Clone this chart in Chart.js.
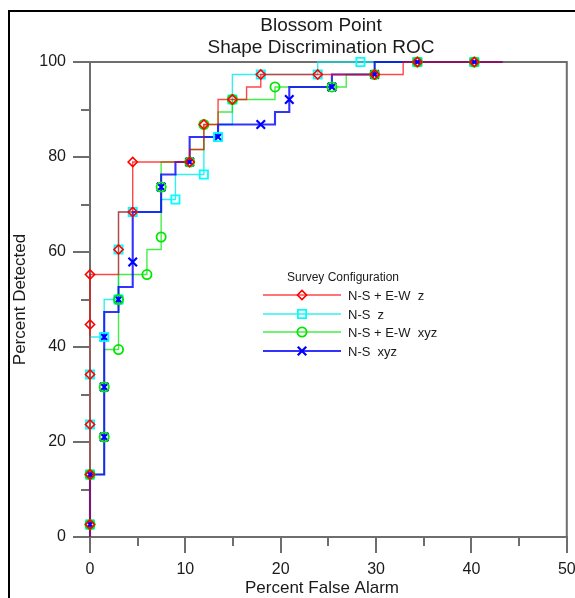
<!DOCTYPE html>
<html>
<head>
<meta charset="utf-8">
<title>Blossom Point - Shape Discrimination ROC</title>
<script src="https://cdn.jsdelivr.net/npm/chart.js@4.4.1/dist/chart.umd.min.js"></script>
<style>
html, body { margin: 0; padding: 0; background: #fff; }
#wrap { position: relative; width: 575px; height: 598px; }
</style>
</head>
<body>
<div id="wrap"><canvas id="roc" width="575" height="598"></canvas></div>
<script>
// ROC curves, x = percent false alarm, y = percent detected.
// *Path arrays are the staircase corners, *Mark arrays the threshold markers.

// N-S + E-W  z
const nsEwZPathX = [0, 0, 2.99, 2.99, 4.48, 4.48, 10.45, 10.45, 11.94, 11.94, 13.43, 13.43, 16.42, 16.42, 17.91, 17.91, 32.84, 32.84, 43.28];
const nsEwZPathY = [0, 55.26, 55.26, 68.42, 68.42, 78.95, 78.95, 81.58, 81.58, 86.84, 86.84, 92.11, 92.11, 94.74, 94.74, 97.37, 97.37, 100, 100];
const nsEwZMarkX = [0, 0, 0, 0, 0, 0, 2.99, 4.48, 4.48, 10.45, 11.94, 14.93, 17.91, 23.88, 29.85, 34.33, 40.30];
const nsEwZMarkY = [2.63, 13.16, 23.68, 34.21, 44.74, 55.26, 60.53, 68.42, 78.95, 78.95, 86.84, 92.11, 97.37, 97.37, 97.37, 100, 100];

// N-S  z
const nsZPathX = [0, 0, 1.49, 1.49, 2.99, 2.99, 7.46, 7.46, 8.96, 8.96, 11.94, 11.94, 13.43, 13.43, 14.93, 14.93, 23.88, 23.88, 43.28];
const nsZPathY = [0, 42.11, 42.11, 50, 50, 68.42, 68.42, 71.05, 71.05, 76.32, 76.32, 84.21, 84.21, 86.84, 86.84, 97.37, 97.37, 100, 100];
const nsZMarkX = [0, 0, 0, 0, 1.49, 2.99, 2.99, 4.48, 8.96, 11.94, 13.43, 14.93, 17.91, 23.88, 28.36, 34.33, 40.30];
const nsZMarkY = [2.63, 13.16, 23.68, 34.21, 42.11, 50, 60.53, 68.42, 71.05, 76.32, 84.21, 92.11, 97.37, 97.37, 100, 100, 100];

// N-S + E-W  xyz
const nsEwXyzPathX = [0, 0, 1.49, 1.49, 2.99, 2.99, 5.97, 5.97, 7.46, 7.46, 10.45, 10.45, 11.94, 11.94, 13.43, 13.43, 14.93, 14.93, 19.40, 19.40, 26.87, 26.87, 29.85, 29.85, 43.28];
const nsEwXyzPathY = [0, 13.16, 13.16, 39.47, 39.47, 55.26, 55.26, 60.53, 60.53, 78.95, 78.95, 81.58, 81.58, 86.84, 86.84, 89.47, 89.47, 92.11, 92.11, 94.74, 94.74, 97.37, 97.37, 100, 100];
const nsEwXyzMarkX = [0, 0, 1.49, 1.49, 2.99, 2.99, 5.97, 7.46, 7.46, 10.45, 11.94, 14.93, 19.40, 25.37, 29.85, 34.33, 40.30];
const nsEwXyzMarkY = [2.63, 13.16, 21.05, 31.58, 39.47, 50, 55.26, 63.16, 73.68, 78.95, 86.84, 92.11, 94.74, 94.74, 97.37, 100, 100];

// N-S  xyz
const nsXyzPathX = [0, 0, 1.49, 1.49, 2.99, 2.99, 4.48, 4.48, 7.46, 7.46, 8.96, 8.96, 10.45, 10.45, 13.43, 13.43, 19.40, 19.40, 20.90, 20.90, 25.37, 25.37, 29.85, 29.85, 43.28];
const nsXyzPathY = [0, 13.16, 13.16, 47.37, 47.37, 52.63, 52.63, 68.42, 68.42, 76.32, 76.32, 78.95, 78.95, 84.21, 84.21, 86.84, 86.84, 89.47, 89.47, 94.74, 94.74, 97.37, 97.37, 100, 100];
const nsXyzMarkX = [0, 0, 1.49, 1.49, 1.49, 2.99, 4.48, 7.46, 10.45, 13.43, 17.91, 20.90, 25.37, 29.85, 34.33, 40.30];
const nsXyzMarkY = [2.63, 13.16, 21.05, 31.58, 42.11, 50, 57.89, 73.68, 78.95, 84.21, 86.84, 92.11, 94.74, 97.37, 100, 100];

const seriesNames = ['N-S + E-W  z', 'N-S  z', 'N-S + E-W  xyz', 'N-S  xyz'];

// axis ticks: labelled steps come from the scales, these are the short ones
const xMinorTicks = [5, 15, 25, 35, 45];
const yMinorTicks = [10, 30, 50, 70, 90];

const FONT = "'Liberation Sans', Arial, Helvetica, sans-serif";
const AXIS_GRAY = '#6e6e6e';

function pts(xs, ys) {
  return xs.map((x, i) => ({ x: x, y: ys[i] }));
}

// drawing order: lower "order" ends up on top
const series = [
  { name: seriesNames[0], color: '#ff0000', line: 'rgba(255,0,0,0.72)', lw: 1.4, style: 'rectRot', r: 4.6, mw: 1.6,
    pathX: nsEwZPathX, pathY: nsEwZPathY, markX: nsEwZMarkX, markY: nsEwZMarkY, markOrder: 0, lineOrder: 4 },
  { name: seriesNames[1], color: '#00ffff', line: 'rgba(0,235,235,0.8)', lw: 1.4, style: 'rect', r: 5.8, mw: 1.8,
    pathX: nsZPathX, pathY: nsZPathY, markX: nsZMarkX, markY: nsZMarkY, markOrder: 2, lineOrder: 7 },
  { name: seriesNames[2], color: '#00e600', line: 'rgba(0,230,0,0.72)', lw: 1.4, style: 'circle', r: 4.6, mw: 1.8,
    pathX: nsEwXyzPathX, pathY: nsEwXyzPathY, markX: nsEwXyzMarkX, markY: nsEwXyzMarkY, markOrder: 1, lineOrder: 6 },
  { name: seriesNames[3], color: '#0000ff', line: 'rgba(0,0,255,0.8)', lw: 2.1, style: 'crossRot', r: 6, mw: 2.2,
    pathX: nsXyzPathX, pathY: nsXyzPathY, markX: nsXyzMarkX, markY: nsXyzMarkY, markOrder: 3, lineOrder: 5 }
];

const datasets = [];
series.forEach(s => {
  datasets.push({
    type: 'line',
    label: s.name,
    data: pts(s.pathX, s.pathY),
    borderColor: s.line,
    borderWidth: s.lw,
    pointRadius: 0,
    tension: 0,
    fill: false,
    clip: false,
    order: s.lineOrder
  });
  datasets.push({
    type: 'scatter',
    label: s.name + ' markers',
    data: pts(s.markX, s.markY),
    showLine: false,
    pointStyle: s.style,
    pointRadius: s.r,
    pointBorderColor: s.color,
    pointBackgroundColor: 'rgba(0,0,0,0)',
    pointBorderWidth: s.mw,
    clip: false,
    order: s.markOrder
  });
});

function marker(ctx, s, x, y) {
  ctx.save();
  ctx.strokeStyle = s.color;
  ctx.fillStyle = 'rgba(0,0,0,0)';
  ctx.lineWidth = s.mw;
  Chart.helpers.drawPoint(ctx, { pointStyle: s.style, radius: s.r, rotation: 0, borderWidth: s.mw }, x, y);
  ctx.restore();
}

// frame, short ticks, titles and the boxed key
const decorations = {
  id: 'decorations',
  beforeDatasetsDraw(chart) {
    const { ctx, chartArea: a, scales: { x, y } } = chart;
    ctx.save();
    ctx.strokeStyle = AXIS_GRAY;
    ctx.lineWidth = 2;
    ctx.beginPath();
    ctx.moveTo(a.left, a.top);
    ctx.lineTo(a.right, a.top);
    ctx.lineTo(a.right, a.bottom);
    xMinorTicks.forEach(v => {
      const px = Math.round(x.getPixelForValue(v));
      ctx.moveTo(px, a.bottom);
      ctx.lineTo(px, a.bottom + 9);
    });
    yMinorTicks.forEach(v => {
      const py = Math.round(y.getPixelForValue(v));
      ctx.moveTo(a.left, py);
      ctx.lineTo(a.left - 9, py);
    });
    ctx.stroke();
    ctx.restore();
  },
  afterDraw(chart) {
    const { ctx, chartArea: a } = chart;
    ctx.save();

    // outer border
    ctx.strokeStyle = '#000';
    ctx.lineWidth = 2;
    ctx.beginPath();
    ctx.moveTo(9, chart.height);
    ctx.lineTo(9, 11);
    ctx.lineTo(chart.width, 11);
    ctx.stroke();

    ctx.fillStyle = '#1a1a1a';
    ctx.textAlign = 'center';
    ctx.textBaseline = 'middle';
    ctx.font = '19px ' + FONT;
    ctx.fillText('Blossom Point', 321, 26);
    ctx.fillText('Shape Discrimination ROC', 321, 48);

    ctx.font = '17px ' + FONT;
    ctx.fillText('Percent False Alarm', 322, 588);
    ctx.save();
    ctx.translate(20, (a.top + a.bottom) / 2);
    ctx.rotate(-Math.PI / 2);
    ctx.fillText('Percent Detected', 0, 0);
    ctx.restore();

    // key
    ctx.font = '12px ' + FONT;
    ctx.fillText('Survey Configuration', 343, 278);
    ctx.font = '13px ' + FONT;
    ctx.textAlign = 'left';
    const rows = [295, 314, 332, 351];
    series.forEach((s, i) => {
      const ry = rows[i];
      ctx.strokeStyle = s.line;
      ctx.lineWidth = s.lw;
      ctx.beginPath();
      ctx.moveTo(263, ry);
      ctx.lineTo(341, ry);
      ctx.stroke();
      marker(ctx, s, 302, ry);
      ctx.fillStyle = '#1a1a1a';
      ctx.fillText(s.name, 348, ry + 1);
    });
    ctx.restore();
  }
};

const ctx = document.getElementById('roc').getContext('2d');
const rocChart = new Chart(ctx, {
  data: { datasets: datasets },
  options: {
    responsive: false,
    animation: false,
    devicePixelRatio: 1,
    layout: { padding: { top: 62, right: 8, bottom: 0, left: 0 } },
    plugins: {
      legend: { display: false },
      tooltip: { enabled: false },
      title: { display: false }
    },
    scales: {
      x: {
        type: 'linear',
        min: 0,
        max: 50,
        ticks: { stepSize: 10, color: '#1a1a1a', font: { family: FONT, size: 16 }, padding: 7, maxRotation: 0 },
        grid: { drawOnChartArea: false, drawTicks: true, tickLength: 16, color: AXIS_GRAY, lineWidth: 2 },
        border: { display: true, color: AXIS_GRAY, width: 2 },
        // let the "50" label run off the edge instead of shrinking the plot
        afterFit(scale) { scale.height = 61; scale.paddingRight = 0; scale.paddingLeft = 0; }
      },
      y: {
        type: 'linear',
        min: 0,
        max: 100,
        ticks: { stepSize: 20, color: '#1a1a1a', font: { family: FONT, size: 16 }, padding: 7 },
        grid: { drawOnChartArea: false, drawTicks: true, tickLength: 17, color: AXIS_GRAY, lineWidth: 2 },
        border: { display: true, color: AXIS_GRAY, width: 2 },
        afterFit(scale) { scale.width = 90; scale.paddingTop = 0; scale.paddingBottom = 0; }
      }
    }
  },
  plugins: [decorations]
});
</script>
</body>
</html>
